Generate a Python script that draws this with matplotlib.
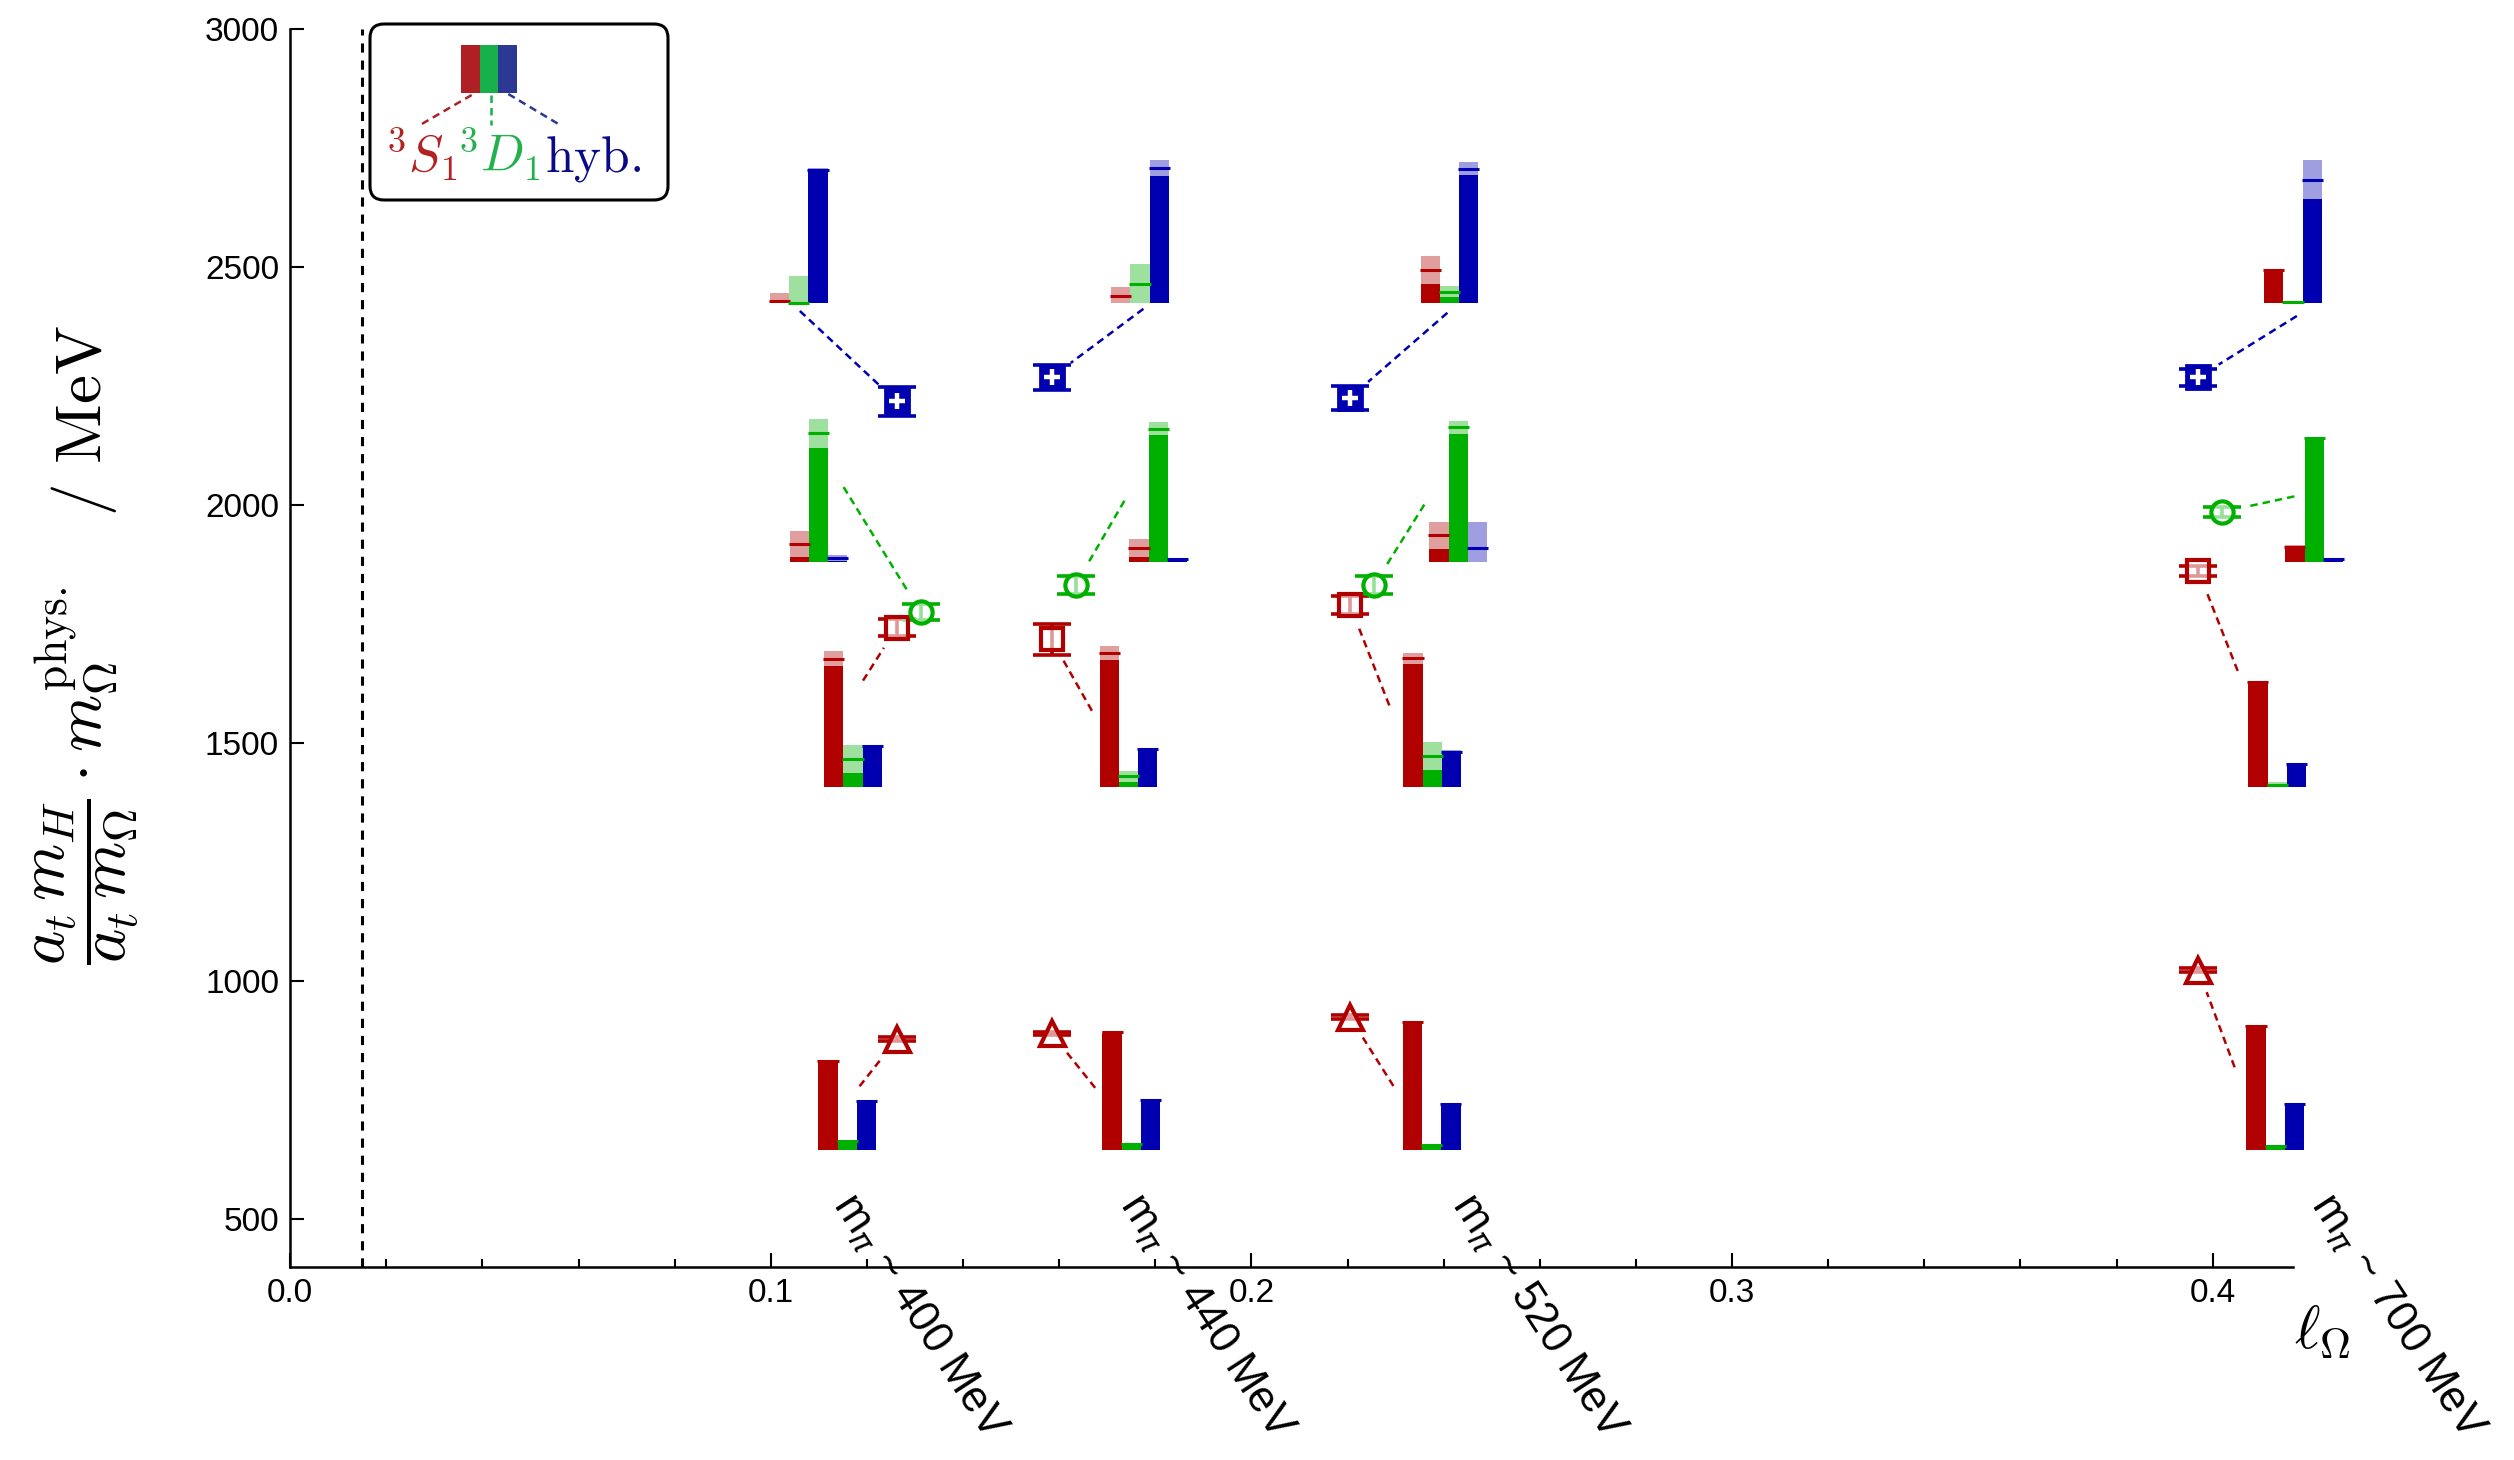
import numpy as np
import matplotlib
matplotlib.use("Agg")
import matplotlib.pyplot as plt
from matplotlib.patches import Rectangle, FancyBboxPatch
from matplotlib.lines import Line2D

plt.rcParams['font.family'] = ['Liberation Sans', 'DejaVu Sans']
plt.rcParams['mathtext.fontset'] = 'cm'

# ------------------------------------------------------------------ data
ens_labels = ["400", "440", "520", "700"]          # m_pi / MeV
ell_omega = [0.1262, 0.1584, 0.2205, 0.3970]       # x positions (l_Omega)
state_names = ["1S", "2S", "1D", "hyb"]

mass_1S = [877, 889, 923, 1023]
mass_1S_err = [4, 4, 4, 4]
mass_2S = [1742, 1717, 1789, 1861]
mass_2S_err = [17, 32, 19, 11]
mass_1D = [1774, 1832, 1831, 1985]
mass_1D_err = [17, 19, 19, 11]
mass_hyb = [2217, 2268, 2225, 2268]
mass_hyb_err = [30, 26, 25, 18]

# operator overlaps  [3S1, 3D1, hybrid]  for each ensemble
ovl_1S = [[0.617, 0.060, 0.338], [0.822, 0.040, 0.345], [0.890, 0.030, 0.320], [0.862, 0.027, 0.316]]
ovl_1S_err = [[0.005, 0.005, 0.005], [0.005, 0.005, 0.005], [0.005, 0.005, 0.005], [0.005, 0.005, 0.005]]
ovl_2S = [[0.902, 0.198, 0.287], [0.940, 0.078, 0.266], [0.905, 0.220, 0.250], [0.735, 0.015, 0.165]]
ovl_2S_err = [[0.052, 0.096, 0.010], [0.050, 0.037, 0.008], [0.040, 0.100, 0.010], [0.010, 0.025, 0.008]]
ovl_1D = [[0.130, 0.904, 0.030], [0.100, 0.935, 0.020], [0.190, 0.945, 0.097], [0.110, 0.870, 0.020]]
ovl_1D_err = [[0.090, 0.100, 0.020], [0.060, 0.045, 0.010], [0.095, 0.048, 0.183], [0.010, 0.008, 0.010]]
ovl_hyb = [[0.012, 0.003, 0.930], [0.050, 0.130, 0.947], [0.230, 0.080, 0.942], [0.230, 0.005, 0.865]]
ovl_hyb_err = [[0.056, 0.185, 0.015], [0.060, 0.140, 0.057], [0.100, 0.040, 0.047], [0.010, 0.005, 0.137]]

x_ticks = [0.0, 0.1, 0.2, 0.3, 0.4]
x_tick_labels = ["0.0", "0.1", "0.2", "0.3", "0.4"]
x_minor = [0.02, 0.04, 0.06, 0.08, 0.12, 0.14, 0.16, 0.18, 0.22, 0.24, 0.26, 0.28,
           0.32, 0.34, 0.36, 0.38]
y_ticks = [500, 1000, 1500, 2000, 2500, 3000]
y_tick_labels = ["500", "1000", "1500", "2000", "2500", "3000"]

# ------------------------------------------------------------------ layout
inset_base = [645, 1406, 1879, 2424]               # baseline of bar insets (per state)
inset_left = [[0.1099, 0.1111, 0.1039, 0.0998],
              [0.1690, 0.1684, 0.1746, 0.1708],
              [0.2315, 0.2316, 0.2370, 0.2352],
              [0.4070, 0.4074, 0.4151, 0.4107]]
leader_off = [[(2.14, 0.443), (2.02, 0.748), (2.81, 0.527), (1.56, -0.056)],
              [(-0.38, 0.432), (-0.40, 0.537), (-0.26, 0.431), (1.68, -0.041)],
              [(-0.49, 0.445), (-0.73, 0.574), (-0.26, 0.404), (1.39, -0.069)],
              [(-0.61, 0.576), (-0.55, 0.816), (0.47, 0.462), (1.70, -0.091)]]
label_x = [0.1185, 0.1782, 0.2473, 0.4260]
D_shift = 0.005
BAR_W = 0.004
BAR_H = 300.0
GAP_PX = 24

RED, GREEN, BLUE = "#b00000", "#00b000", "#0000b0"
comp_cols = [RED, GREEN, BLUE]
state_cols = [RED, RED, GREEN, BLUE]
state_markers = ["^", "s", "o", "s"]
DASH = (0, (3.0, 2.0))

masses = [mass_1S, mass_2S, mass_1D, mass_hyb]
mass_errs = [mass_1S_err, mass_2S_err, mass_1D_err, mass_hyb_err]
ovls = [ovl_1S, ovl_2S, ovl_1D, ovl_hyb]
ovl_errs = [ovl_1S_err, ovl_2S_err, ovl_1D_err, ovl_hyb_err]

# ------------------------------------------------------------------ figure
fig = plt.figure(figsize=(25.14, 14.60), dpi=100)
ax = fig.add_axes([0.11543, 0.13247, 0.79666, 0.84774])
ax.set_xlim(0, 0.4167)
ax.set_ylim(399, 3000)
for s in ["top", "right"]:
    ax.spines[s].set_visible(False)
for s in ["left", "bottom"]:
    ax.spines[s].set_linewidth(1.8)
ax.set_xticks(x_ticks)
ax.set_xticklabels(x_tick_labels)
ax.set_xticks(x_minor, minor=True)
ax.set_yticks(y_ticks)
ax.set_yticklabels(y_tick_labels)
ax.tick_params(which="both", direction="in", labelsize=24, width=1.5)
ax.tick_params(which="major", length=10, pad=8)
ax.tick_params(which="minor", length=6)

ax.axvline(0.015, color="k", lw=2.2, linestyle=(0, (3.0, 2.6)), zorder=1)

fig.canvas.draw()
tD = ax.transData
tInv = tD.inverted()

for e in range(4):
    for s in range(4):
        base = inset_base[s]
        left = inset_left[e][s]
        # ---- overlap bars
        for c in range(3):
            v = ovls[s][e][c]
            er = ovl_errs[s][e][c]
            lo = max(v - er, 0.0)
            hi = v + er
            x0 = left + c * BAR_W
            col = comp_cols[c]
            if lo > 0:
                ax.add_patch(Rectangle((x0, base), BAR_W, lo * BAR_H, facecolor=col,
                                       edgecolor="none", zorder=3, clip_on=False))
            ax.add_patch(Rectangle((x0, base + lo * BAR_H), BAR_W, (hi - lo) * BAR_H,
                                   facecolor=col, alpha=0.38, edgecolor="none",
                                   zorder=3, clip_on=False))
            ax.plot([x0 - 0.0002, x0 + BAR_W + 0.0002], [base + v * BAR_H] * 2,
                    color=col, lw=2.2, solid_capstyle="butt", zorder=4, clip_on=False)
        # ---- mass point
        xm = ell_omega[e] + (D_shift if s == 2 else 0.0)
        ym = masses[s][e]
        col = state_cols[s]
        ax.errorbar([xm], [ym], yerr=[mass_errs[s][e]], fmt="none", ecolor=col,
                    elinewidth=2.6, capsize=13.5, capthick=2.6, zorder=5, clip_on=False)
        if s == 3:
            ax.plot([xm], [ym], marker="s", ms=17, mfc=col, mec=col, mew=2.0,
                    zorder=6, clip_on=False)
            ax.plot([xm], [ym], marker="+", ms=12, mec="white", mew=3.2,
                    zorder=7, clip_on=False)
        else:
            ms = 18 if s == 0 else 16
            ax.plot([xm], [ym], marker=state_markers[s], ms=ms, mfc=(1, 1, 1, 0.6),
                    mec=col, mew=3.0, zorder=6, clip_on=False)
        # ---- leader line
        dx, dy = leader_off[e][s]
        start = np.array(tD.transform((left + dx * BAR_W, base + dy * BAR_H)))
        mk = np.array(tD.transform((xm, ym)))
        d = start - mk
        end = mk + d / np.hypot(*d) * GAP_PX
        p0 = tInv.transform(start)
        p1 = tInv.transform(end)
        ax.plot([p0[0], p1[0]], [p0[1], p1[1]], color=col, lw=1.8,
                linestyle=DASH, zorder=2, clip_on=False)

# ---- rotated m_pi labels
for e in range(4):
    ax.text(label_x[e], 568, "m$_{\\pi}$ ~ " + ens_labels[e] + " MeV", rotation=-57,
            rotation_mode="anchor", ha="left", va="top", fontsize=31.5,
            math_fontfamily="dejavusans", clip_on=False, zorder=8)

# ---- axis labels
fig.text(88 / 2514, 1 - 645 / 1460,
         r"$\dfrac{a_t\,m_H}{a_t\,m_\Omega}\cdot m_\Omega^{\mathrm{phys.}}\quad/\ \mathrm{MeV}$",
         rotation=90, ha="center", va="center", fontsize=47)
fig.text(2322 / 2514, 1 - 1333 / 1460, r"$\ell_\Omega$", ha="center", va="center",
         fontsize=44)

# ---- legend (drawn in inches)
T = fig.dpi_scale_trans
def P(px, py):
    return (px / 100.0, (1460 - py) / 100.0)

box = FancyBboxPatch(P(370, 200), 2.98, 1.76, boxstyle="round,pad=0,rounding_size=0.14",
                     lw=2.2, ec="k", fc="white", transform=T, zorder=10)
fig.patches.append(box)
leg_cols = ["#b01f24", "#17b04b", "#2b3992"]
leg_txt_cols = ["#b22222", "#22b14c", "#0a0a85"]
for i, lc in enumerate(leg_cols):
    fig.patches.append(Rectangle(P(461 + i * 18.6, 92.7), 0.186, 0.477, facecolor=lc,
                                 edgecolor="none", transform=T, zorder=11))
leg_lines = [((471.7, 95), (418.3, 126)), ((490.7, 95), (490.7, 125)), ((508.3, 94), (561.7, 126))]
for (a, b), lc in zip(leg_lines, leg_cols):
    pa, pb = P(*a), P(*b)
    fig.lines.append(Line2D([pa[0], pb[0]], [pa[1], pb[1]], color=lc, lw=1.8,
                            linestyle=DASH, transform=T, zorder=11))
leg_texts = [r"${}^3S_1$", r"${}^3D_1$", r"$\mathrm{hyb.}$"]
leg_txt_x = [385, 457, 545]
for t, x, c in zip(leg_texts, leg_txt_x, leg_txt_cols):
    fig.text(*P(x, 172), t, color=c, fontsize=37, ha="left", va="baseline",
             transform=T, zorder=12)

fig.savefig("out.png", dpi=100)
